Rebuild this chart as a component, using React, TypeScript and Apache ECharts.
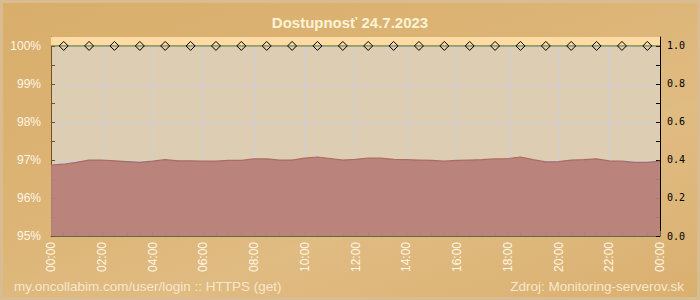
import React, { useEffect, useRef } from "react";
import * as echarts from "echarts";

const titleText = "Dostupnosť 24.7.2023";
const footerLeft = "my.oncollabim.com/user/login :: HTTPS (get)";
const footerRight = "Zdroj: Monitoring-serverov.sk";

// hours (every 30 minutes)
const hours = [
  0, 0.5, 1, 1.5, 2, 2.5, 3, 3.5, 4, 4.5, 5, 5.5, 6, 6.5, 7, 7.5, 8, 8.5, 9, 9.5,
  10, 10.5, 11, 11.5, 12, 12.5, 13, 13.5, 14, 14.5, 15, 15.5, 16, 16.5, 17, 17.5,
  18, 18.5, 19, 19.5, 20, 20.5, 21, 21.5, 22, 22.5, 23, 23.5, 24,
];
// availability in %
const availability = [
  96.87, 96.89, 96.94, 97.0, 97.0, 96.98, 96.96, 96.94, 96.97, 97.01, 96.98, 96.98,
  96.97, 96.97, 96.99, 96.99, 97.03, 97.03, 97.0, 97.0, 97.05, 97.08, 97.04, 97.0,
  97.02, 97.05, 97.05, 97.02, 97.01, 97.0, 96.99, 96.97, 96.99, 97.0, 97.01, 97.03,
  97.04, 97.08, 97.01, 96.95, 96.96, 97.0, 97.01, 97.03, 96.98, 96.97, 96.94, 96.94,
  96.97,
];
// status checks (right axis)
const checkHours = [
  0.5, 1.5, 2.5, 3.5, 4.5, 5.5, 6.5, 7.5, 8.5, 9.5, 10.5, 11.5, 12.5, 13.5, 14.5,
  15.5, 16.5, 17.5, 18.5, 19.5, 20.5, 21.5, 22.5, 23.5,
];
const checkValues = [
  1, 1, 1, 1, 1, 1, 1, 1, 1, 1, 1, 1, 1, 1, 1, 1, 1, 1, 1, 1, 1, 1, 1, 1,
];
const lineStart = 0;
const lineEnd = 24;
const lineValue = 1;

const leftMin = 95;
const leftMax = 100.24;
const rightMax = 1.047;

export default function App() {
  const ref = useRef<HTMLDivElement>(null);
  useEffect(() => {
    if (!ref.current) return;
    const chart = echarts.init(ref.current, null, { renderer: "svg" });
    const labelColor = "#fff6e6";
    const font = "'Liberation Sans', Arial, sans-serif";
    const checkData: any[] = [
      { value: [lineStart, lineValue], symbol: "none" },
      ...checkHours.map((h, i) => [h, checkValues[i]]),
      { value: [lineEnd, lineValue], symbol: "none" },
    ];
    chart.setOption({
      animation: false,
      title: {
        text: titleText,
        left: "center",
        top: 10,
        textStyle: { color: "#fff3d6", fontSize: 15, fontWeight: "bold", fontFamily: font },
      },
      graphic: [
        {
          type: "text",
          left: 14,
          top: 279,
          style: { text: footerLeft, fill: "#f7e8cc", font: `13.5px ${font}` },
        },
        {
          type: "text",
          right: 16,
          top: 279,
          style: { text: footerRight, fill: "#f7e8cc", font: `13.5px ${font}` },
        },
      ],
      grid: {
        left: 51,
        right: 40,
        top: 37,
        bottom: 64,
        show: true,
        backgroundColor: "#ddcdb3",
        borderWidth: 0,
      },
      xAxis: {
        type: "value",
        min: 0,
        max: 24,
        interval: 2,
        axisLine: { show: true, lineStyle: { color: "#5c6c42", width: 1 } },
        axisTick: { show: true, inside: true, length: 5, lineStyle: { color: "#5c6c42" } },
        minorTick: { show: true, splitNumber: 4, length: 3, lineStyle: { color: "#5c6c42" } },
        splitLine: { show: true, lineStyle: { color: "#cdd0d8", width: 1 } },
        axisLabel: {
          rotate: 90,
          margin: 6,
          color: labelColor,
          fontSize: 12,
          fontFamily: font,
          formatter: (v: number) => `${String(v % 24).padStart(2, "0")}:00`,
        },
      },
      yAxis: [
        {
          type: "value",
          min: leftMin,
          max: leftMax,
          interval: 1,
          axisLine: { show: true, lineStyle: { color: "#6e5222", width: 1 } },
          axisTick: { show: true, inside: true, length: 4, lineStyle: { color: "#6e5222" } },
          minorTick: { show: true, splitNumber: 2, length: 4, lineStyle: { color: "#6e5222" } },
          splitLine: { show: true, lineStyle: { color: "#cdd0d8", width: 1 } },
          axisLabel: {
            margin: 10,
            color: labelColor,
            fontSize: 12,
            fontFamily: font,
            showMaxLabel: false,
            formatter: (v: number) => (Math.abs(v - Math.round(v)) < 1e-6 ? `${Math.round(v)}%` : ""),
          },
        },
        {
          type: "value",
          min: 0,
          max: rightMax,
          interval: 0.2,
          position: "right",
          axisLine: { show: true, lineStyle: { color: "#000000", width: 1 } },
          axisTick: { show: true, inside: true, length: 4, lineStyle: { color: "#000000" } },
          minorTick: { show: true, splitNumber: 2, length: 4, lineStyle: { color: "#000000" } },
          splitLine: { show: false },
          axisLabel: {
            margin: 7,
            color: "#000000",
            fontSize: 10,
            fontFamily: "'DejaVu Sans Mono', monospace",
            showMaxLabel: false,
            formatter: (v: number) => {
              const r = Math.round(v * 10) / 10;
              return Math.abs(v - r) < 1e-6 ? r.toFixed(1) : "";
            },
          },
        },
      ],
      series: [
        {
          type: "line",
          yAxisIndex: 0,
          data: hours.map((h, i) => [h, availability[i]]),
          showSymbol: false,
          symbol: "none",
          lineStyle: { color: "#ad6a60", width: 1.2 },
          areaStyle: { color: "#b78079", opacity: 0.95 },
          markArea: {
            silent: true,
            itemStyle: { color: "#fcdca4" },
            data: [[{ yAxis: 100 }, { yAxis: leftMax }]],
          },
          z: 2,
        },
        {
          type: "line",
          yAxisIndex: 1,
          data: checkData,
          symbol: "diamond",
          symbolSize: 9,
          showAllSymbol: true,
          lineStyle: { color: "#5e6a28", width: 1 },
          itemStyle: { color: "rgba(0,0,0,0)", borderColor: "#000000", borderWidth: 1 },
          z: 3,
        },
      ],
    });
    return () => chart.dispose();
  }, []);
  return (
    <div
      style={{
        position: "fixed",
        left: 0,
        top: 0,
        width: 700,
        height: 300,
        boxSizing: "border-box",
        border: "3px solid #d9bd90",
        background:
          "linear-gradient(160deg, #d9ae6c 0%, #dcb475 40%, #e0bb82 65%, #dab070 100%)",
      }}
    >
      <div ref={ref} style={{ position: "absolute", left: -3, top: -3, width: 700, height: 300 }} />
    </div>
  );
}
